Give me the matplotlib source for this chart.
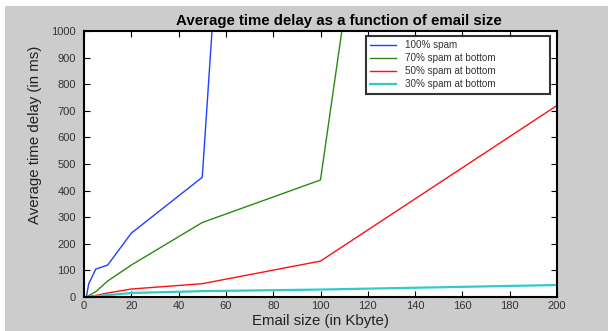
import matplotlib
matplotlib.use('Agg')
import matplotlib.pyplot as plt
from matplotlib.patches import Rectangle

plt.rcParams['font.family'] = ['Liberation Sans', 'DejaVu Sans']

# email size (Kbyte) and average delay (ms) per spam mix
size_100 = [1, 2, 5, 10, 20, 50, 54.5]
delay_100 = [0, 50, 105, 120, 240, 450, 1050]

size_70 = [1, 5, 10, 20, 50, 100, 109.5]
delay_70 = [0, 20, 60, 120, 280, 440, 1030]

size_50 = [1, 5, 10, 20, 50, 100, 200]
delay_50 = [0, 6, 15, 30, 50, 135, 720]

size_30 = [1, 5, 10, 20, 50, 100, 200]
delay_30 = [0, 3, 7, 15, 22, 28, 45]

labels = ['100% spam', '70% spam at bottom', '50% spam at bottom', '30% spam at bottom']

fig = plt.figure(figsize=(6.08, 3.31), dpi=100, facecolor='white')
# grey panel behind the plot (thin white margin top/left in the original)
fig.patches.append(Rectangle((5 / 608, 0), 1, 1 - 6 / 331, transform=fig.transFigure,
                             facecolor='#cccccc', edgecolor='none', zorder=-1))

ax = fig.add_axes([84 / 608, 34 / 331, 473 / 608, 266 / 331])
ax.plot(size_100, delay_100, color='#2040ff', linewidth=1.0, label=labels[0])
ax.plot(size_70, delay_70, color='#2a8a10', linewidth=1.0, label=labels[1])
ax.plot(size_50, delay_50, color='#ff1010', linewidth=1.0, label=labels[2])
ax.plot(size_30, delay_30, color='#30cccc', linewidth=1.6, label=labels[3])

ax.set_xlim(0, 200)
ax.set_ylim(0, 1000)
ax.set_xticks(range(0, 201, 20))
ax.set_yticks(range(0, 1001, 100))
ax.tick_params(direction='in', length=4, width=0.8, top=True, right=True,
               labelsize=8, labelcolor='#333333')
ax.tick_params(axis='y', pad=6)
ax.tick_params(axis='x', pad=3)
for sp in ax.spines.values():
    sp.set_linewidth(1.5)

ax.set_title('Average time delay as a function of email size', fontsize=10.8,
             fontweight='bold', x=0.539, pad=4)
ax.set_xlabel('Email size (in Kbyte)', fontsize=10.8, color='#222222', labelpad=2)
ax.set_ylabel('Average time delay (in ms)', fontsize=10.8, color='#222222')
ax.yaxis.set_label_coords(-0.089, 0.611)

leg = ax.legend(loc='upper left', bbox_to_anchor=(0.596, 0.981, 0.389, 0.0),
                mode='expand', fontsize=7.1, frameon=True, fancybox=False,
                borderpad=0.45, handlelength=2.6, handletextpad=0.9,
                labelspacing=0.3, borderaxespad=0)
leg.get_frame().set_edgecolor('black')
leg.get_frame().set_linewidth(1.5)
for t in leg.get_texts():
    t.set_color('#333333')

fig.savefig('out.png', dpi=100, facecolor=fig.get_facecolor())
